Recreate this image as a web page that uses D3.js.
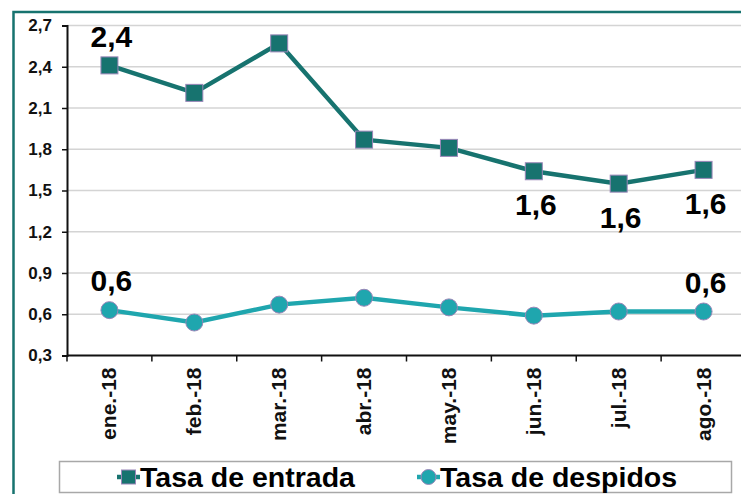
<!DOCTYPE html>
<html>
<head>
<meta charset="utf-8">
<script src="https://cdn.jsdelivr.net/npm/d3@7"></script>
<style>
  body { margin: 0; background: #fff; }
  text { font-family: "Liberation Sans", Arial, sans-serif; font-weight: bold; }
</style>
</head>
<body>
<div id="chart"></div>
<script>
//////////////////////////////////////////////////////////////////////////////
// Data

var months = ["ene.-18", "feb.-18", "mar.-18", "abr.-18", "may.-18", "jun.-18", "jul.-18", "ago.-18"];
var entrada = [2.41, 2.21, 2.57, 1.87, 1.81, 1.64, 1.55, 1.65];
var despidos = [0.63, 0.54, 0.67, 0.72, 0.65, 0.59, 0.62, 0.62];
var yTicks = [0.3, 0.6, 0.9, 1.2, 1.5, 1.8, 2.1, 2.4, 2.7];

// data labels: index into series, text, above (-1) or below (+1)
var entradaLabels = [
    { i: 0, text: "2,4", side: -1 },
    { i: 5, text: "1,6", side: 1 },
    { i: 6, text: "1,6", side: 1 },
    { i: 7, text: "1,6", side: 1 }
];
var despidosLabels = [
    { i: 0, text: "0,6", side: -1 },
    { i: 7, text: "0,6", side: -1 }
];

var legendNames = ["Tasa de entrada", "Tasa de despidos"];

//////////////////////////////////////////////////////////////////////////////
// Layout

var width = 741, height = 494;
var plotLeft = 67, plotRight = 746, plotTop = 25.5, plotBottom = 355.5;
var colEntrada = "#17736f";
var colDespidos = "#1fa6ae";
var markerStroke = "#9a86b8";

var xScale = d3.scaleBand().domain(months).range([plotLeft, plotRight]);
var yScale = d3.scaleLinear().domain([0.3, 2.7]).range([plotBottom, plotTop]);

function cx(i) { return xScale(months[i]) + xScale.bandwidth() / 2; }
function fmt(d) { return d3.format(".1f")(d).replace(".", ","); }

var svg = d3.select("#chart")
    .append("svg")
    .attr("width", width)
    .attr("height", height);

// outer frame (teal, top and left visible)
svg.append("path")
    .attr("d", "M 13.5 " + height + " L 13.5 12 L " + width + " 12")
    .attr("fill", "none")
    .attr("stroke", colEntrada)
    .attr("stroke-width", 2.5);

// gridlines
svg.append("g")
    .selectAll("line")
    .data(yTicks.slice(1))
    .enter()
    .append("line")
    .attr("x1", plotLeft)
    .attr("x2", plotRight)
    .attr("y1", function(d) { return yScale(d); })
    .attr("y2", function(d) { return yScale(d); })
    .attr("stroke", "#d4d4d4")
    .attr("stroke-width", 1.5);

// y axis (ticks from d3, labels drawn separately)
var yAxis = d3.axisLeft(yScale)
    .tickValues(yTicks)
    .tickSize(5)
    .tickFormat("");

var yG = svg.append("g")
    .attr("transform", "translate(" + plotLeft + ",0)")
    .call(yAxis);
yG.select(".domain").attr("stroke", "#111").attr("stroke-width", 2);
yG.selectAll(".tick line").attr("stroke", "#111").attr("stroke-width", 1.5);

svg.append("g")
    .selectAll("text")
    .data(yTicks)
    .enter()
    .append("text")
    .attr("x", plotLeft - 15)
    .attr("y", function(d) { return yScale(d); })
    .attr("dy", "0.35em")
    .attr("text-anchor", "end")
    .style("font-size", "17px")
    .attr("fill", "#111")
    .text(fmt);

// x axis line and ticks at band edges
svg.append("line")
    .attr("x1", plotLeft)
    .attr("x2", plotRight)
    .attr("y1", plotBottom)
    .attr("y2", plotBottom)
    .attr("stroke", "#111")
    .attr("stroke-width", 2);

svg.append("g")
    .selectAll("line")
    .data(months)
    .enter()
    .append("line")
    .attr("x1", function(d) { return xScale(d); })
    .attr("x2", function(d) { return xScale(d); })
    .attr("y1", plotBottom)
    .attr("y2", plotBottom + 6)
    .attr("stroke", "#111")
    .attr("stroke-width", 1.5);

svg.append("g")
    .selectAll("text")
    .data(months)
    .enter()
    .append("text")
    .attr("transform", function(d, i) {
        return "translate(" + (cx(i) + 7) + "," + (plotBottom + 12) + ") rotate(-90)";
    })
    .attr("text-anchor", "end")
    .style("font-size", "21px")
    .attr("fill", "#111")
    .text(function(d) { return d; });

//////////////////////////////////////////////////////////////////////////////
// Series

var line = d3.line()
    .x(function(d, i) { return cx(i); })
    .y(function(d) { return yScale(d); });

svg.append("path")
    .datum(entrada)
    .attr("d", line)
    .attr("fill", "none")
    .attr("stroke", colEntrada)
    .attr("stroke-width", 4.5);

svg.append("path")
    .datum(despidos)
    .attr("d", line)
    .attr("fill", "none")
    .attr("stroke", colDespidos)
    .attr("stroke-width", 4.5);

svg.append("g")
    .selectAll("rect")
    .data(entrada)
    .enter()
    .append("rect")
    .attr("x", function(d, i) { return cx(i) - 8.5; })
    .attr("y", function(d) { return yScale(d) - 8.5; })
    .attr("width", 17)
    .attr("height", 17)
    .attr("fill", colEntrada)
    .attr("stroke", markerStroke)
    .attr("stroke-width", 1);

svg.append("g")
    .selectAll("circle")
    .data(despidos)
    .enter()
    .append("circle")
    .attr("cx", function(d, i) { return cx(i); })
    .attr("cy", function(d) { return yScale(d); })
    .attr("r", 8.5)
    .attr("fill", colDespidos)
    .attr("stroke", markerStroke)
    .attr("stroke-width", 1);

// data labels
function addLabels(labels, series, above, below) {
    svg.append("g")
        .selectAll("text")
        .data(labels)
        .enter()
        .append("text")
        .attr("x", function(d) { return cx(d.i) + 2; })
        .attr("y", function(d) {
            return yScale(series[d.i]) + (d.side < 0 ? -above : below);
        })
        .attr("text-anchor", "middle")
        .style("font-size", "30px")
        .attr("fill", "#000")
        .text(function(d) { return d.text; });
}
addLabels(entradaLabels, entrada, 18, 44);
addLabels(despidosLabels, despidos, 19, 44);

//////////////////////////////////////////////////////////////////////////////
// Legend

svg.append("rect")
    .attr("x", 59.5)
    .attr("y", 461.5)
    .attr("width", 672)
    .attr("height", 31)
    .attr("fill", "#fff")
    .attr("stroke", "#a8a8a8")
    .attr("stroke-width", 1.5);

var legendX = [117, 417];
var legendG = svg.append("g")
    .selectAll("g")
    .data(legendNames)
    .enter()
    .append("g")
    .attr("transform", function(d, i) { return "translate(" + legendX[i] + ",477)"; });

legendG.append("line")
    .attr("x1", 0)
    .attr("x2", 23)
    .attr("stroke", function(d, i) { return i === 0 ? colEntrada : colDespidos; })
    .attr("stroke-width", 4.5);

legendG.filter(function(d, i) { return i === 0; })
    .append("rect")
    .attr("x", 4.5)
    .attr("y", -7)
    .attr("width", 14)
    .attr("height", 14)
    .attr("fill", colEntrada)
    .attr("stroke", markerStroke)
    .attr("stroke-width", 1);

legendG.filter(function(d, i) { return i === 1; })
    .append("circle")
    .attr("cx", 11.5)
    .attr("r", 7.5)
    .attr("fill", colDespidos)
    .attr("stroke", markerStroke)
    .attr("stroke-width", 1);

legendG.append("text")
    .attr("x", 23)
    .attr("y", 10)
    .style("font-size", "28.5px")
    .attr("fill", "#000")
    .text(function(d) { return d; });
</script>
</body>
</html>
